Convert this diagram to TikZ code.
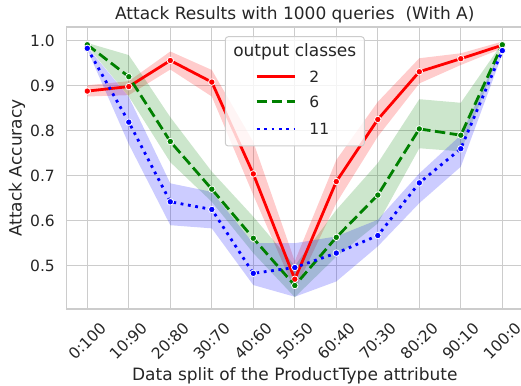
\documentclass[tikz,border=0pt]{standalone}
\usepackage{fontspec}
\setmainfont{DejaVu Sans}

\definecolor{txt}{HTML}{262626}
\definecolor{gridgray}{HTML}{CCCCCC}
\definecolor{cred}{RGB}{255,0,0}
\definecolor{cgreen}{RGB}{0,128,0}
\definecolor{cblue}{RGB}{0,0,255}

\tikzset{
  gridline/.style={gridgray, line width=1.2pt},
  band/.style={fill=#1, fill opacity=0.2, draw=none},
  redline/.style={cred, line width=2.8pt, line join=round},
  greenline/.style={cgreen, line width=2.8pt, line join=round, dash pattern=on 10.4pt off 4.5pt},
  blueline/.style={cblue, line width=2.8pt, line join=round, dash pattern=on 2.8pt off 4.6pt},
  dot/.style={circle, fill=#1, draw=white, line width=0.8pt, inner sep=0pt, minimum size=6.5pt},
  bigtext/.style={text=txt, inner sep=0pt, font=\fontsize{17}{20}\selectfont},
  smalltext/.style={text=txt, inner sep=0pt, font=\fontsize{15.5}{18}\selectfont},
}

\begin{document}
\begin{tikzpicture}[x=41.5pt,y=450pt]
  \useasboundingbox (-87.3pt,105.7pt) rectangle (433.7pt,490.7pt);

  % grid and frame
  \foreach \i in {0,...,10}
    \draw[gridline] (\i,0.4038) -- (\i,1.0304);
  \foreach \v in {0.5,0.6,0.7,0.8,0.9,1.0}
    \draw[gridline] (-0.5,\v) -- (10.5,\v);
  \draw[gridline] (10.5,1.0304) -- (-0.5,1.0304) -- (-0.5,0.4038) -- (10.5,0.4038);

  % confidence bands
  \fill[band=cred] (0,0.901) -- (1,0.910) -- (2,0.976) -- (3,0.935) -- (4,0.775) -- (5,0.510)
    -- (6,0.735) -- (7,0.864) -- (8,0.961) -- (9,0.972) -- (10,0.998)
    -- (10,0.983) -- (9,0.946) -- (8,0.905) -- (7,0.787) -- (6,0.639) -- (5,0.445)
    -- (4,0.657) -- (3,0.876) -- (2,0.936) -- (1,0.879) -- (0,0.876) -- cycle;
  \fill[band=cgreen] (0,0.995) -- (1,0.968) -- (2,0.830) -- (3,0.709) -- (4,0.609) -- (5,0.500)
    -- (6,0.624) -- (7,0.728) -- (8,0.870) -- (9,0.862) -- (10,0.995)
    -- (10,0.987) -- (9,0.754) -- (8,0.761) -- (7,0.594) -- (6,0.520) -- (5,0.430)
    -- (4,0.528) -- (3,0.642) -- (2,0.730) -- (1,0.876) -- (0,0.988) -- cycle;
  \fill[band=cblue] (0,0.986) -- (1,0.875) -- (2,0.683) -- (3,0.664) -- (4,0.550) -- (5,0.550)
    -- (6,0.565) -- (7,0.602) -- (8,0.705) -- (9,0.790) -- (10,0.986)
    -- (10,0.970) -- (9,0.720) -- (8,0.639) -- (7,0.543) -- (6,0.465) -- (5,0.431)
    -- (4,0.457) -- (3,0.583) -- (2,0.590) -- (1,0.770) -- (0,0.980) -- cycle;

  % mean lines with markers
  \draw[redline] plot coordinates {(0,0.888) (1,0.898) (2,0.956) (3,0.908) (4,0.704) (5,0.470)
    (6,0.687) (7,0.825) (8,0.931) (9,0.960) (10,0.990)};
  \foreach \y [count=\i from 0] in {0.888,0.898,0.956,0.908,0.704,0.470,0.687,0.825,0.931,0.960,0.990}
    \node[dot=cred] (r\i) at (\i,\y) {};

  \draw[greenline] plot coordinates {(0,0.991) (1,0.920) (2,0.776) (3,0.670) (4,0.561) (5,0.456)
    (6,0.563) (7,0.657) (8,0.804) (9,0.790) (10,0.991)};
  \foreach \y [count=\i from 0] in {0.991,0.920,0.776,0.670,0.561,0.456,0.563,0.657,0.804,0.790,0.991}
    \node[dot=cgreen] (g\i) at (\i,\y) {};

  \draw[blueline] plot coordinates {(0,0.983) (1,0.819) (2,0.642) (3,0.625) (4,0.483) (5,0.496)
    (6,0.528) (7,0.567) (8,0.684) (9,0.760) (10,0.978)};
  \foreach \y [count=\i from 0] in {0.983,0.819,0.642,0.625,0.483,0.496,0.528,0.567,0.684,0.760,0.978}
    \node[dot=cblue] (b\i) at (\i,\y) {};

  % ticks and labels
  \foreach \v in {0.5,0.6,0.7,0.8,0.9,1.0}
    \node[smalltext, anchor=east] (yt\v) at (-0.778,\v) {\v};
  \foreach \lab [count=\i from 0] in {0:100,10:90,20:80,30:70,40:60,50:50,60:40,70:30,80:20,90:10,100:0}
    \node[smalltext, rotate=45] (xt\i) at (\i,0.3327) {\lab};

  \node[bigtext, anchor=base] (title) at (5,1.046) {Attack Results with 1000 queries\ \ (With A)};
  \node[bigtext, anchor=base] (xlabel) at (5,0.2444) {Data split of the ProductType attribute};
  \node[bigtext, anchor=base, rotate=90] (ylabel) at (-1.581,0.717) {Attack Accuracy};

  % legend
  \draw[gridgray, line width=1pt, fill=white, fill opacity=0.8, rounded corners=3pt]
    (3.325,0.766) rectangle (6.675,1.0089);
  \node[bigtext, anchor=base] (legtitle) at (5,0.9644) {output classes};
  \draw[redline] (4.082,0.920) -- (5.005,0.920);
  \draw[greenline] (4.082,0.8644) -- (5.005,0.8644);
  \draw[blueline] (4.082,0.8038) -- (5.005,0.8038);
  \node[smalltext, anchor=west] (leg2) at (5.349,0.920) {2};
  \node[smalltext, anchor=west] (leg6) at (5.349,0.8644) {6};
  \node[smalltext, anchor=west] (leg11) at (5.349,0.8038) {11};
\end{tikzpicture}
\end{document}
